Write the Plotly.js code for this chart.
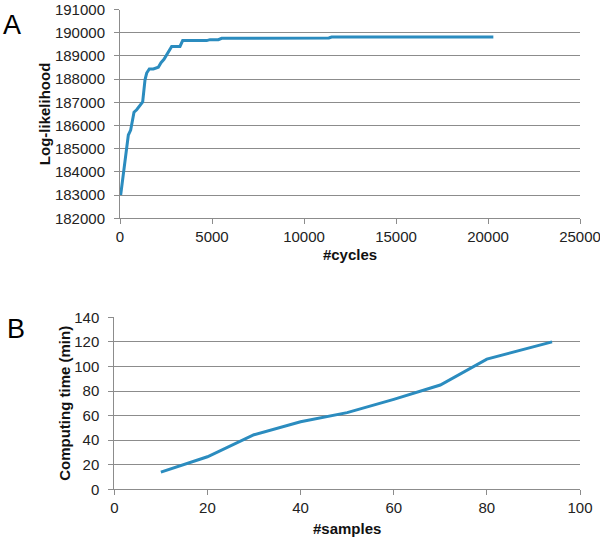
<!DOCTYPE html>
<html>
<head>
<meta charset="utf-8">
<script src="https://cdn.plot.ly/plotly-3.0.1.min.js"></script>
<style>html,body{margin:0;padding:0;background:#fff;}#chart{width:600px;height:537px;}</style>
</head>
<body>
<div id="chart"></div>
<script>
// Panel A: log-likelihood vs cycles
const cycles = [37, 181, 362, 453, 580, 761, 906, 1051, 1232, 1359, 1450, 1594, 1812, 2083, 2228, 2391, 2536, 2808, 3261, 3406, 4711, 4891, 5344, 5525, 11350, 11500, 20290];
const logLik = [183000, 183970, 185020, 185590, 185800, 186570, 186680, 186850, 187020, 187970, 188260, 188440, 188440, 188510, 188710, 188850, 189030, 189410, 189410, 189660, 189660, 189700, 189700, 189760, 189770, 189810, 189810];

// Panel B: computing time vs samples
const samples = [10, 20, 30, 40, 50, 60, 70, 80, 94];
const compTime = [14, 26.5, 44.4, 55, 62.4, 73.2, 84.9, 106, 120];

const lineColor = '#2b8cbf';
const gridColor = '#8c8c8c';
const tickFont = {family: 'Liberation Sans, Arial, sans-serif', size: 15, color: '#222'};
const titleFont = {family: 'Liberation Sans, Arial, sans-serif', size: 15, color: '#111', weight: 'bold'};

const commonX = {
  showgrid: false, zeroline: false, showline: true, linecolor: gridColor, linewidth: 1,
  ticks: 'outside', ticklen: 5, tickcolor: gridColor, tickfont: tickFont, ticklabelstandoff: 0,
  ticklabeloverflow: 'allow'
};
const commonY = {
  showgrid: true, gridcolor: gridColor, gridwidth: 1, zeroline: false, showline: true,
  linecolor: gridColor, linewidth: 1, ticks: 'outside', ticklen: 5, tickcolor: gridColor,
  tickfont: tickFont, ticklabelstandoff: 6, ticklabeloverflow: 'allow'
};

const data = [
  {x: cycles, y: logLik, type: 'scatter', mode: 'lines', xaxis: 'x', yaxis: 'y',
   line: {color: lineColor, width: 3}, hoverinfo: 'skip', cliponaxis: false},
  {x: samples, y: compTime, type: 'scatter', mode: 'lines', xaxis: 'x2', yaxis: 'y2',
   line: {color: lineColor, width: 3}, hoverinfo: 'skip'}
];

const layout = {
  width: 600, height: 537,
  margin: {l: 0, r: 0, t: 0, b: 0},
  paper_bgcolor: '#fff', plot_bgcolor: '#fff',
  showlegend: false,
  xaxis: Object.assign({}, commonX, {
    domain: [120/600, 580/600], anchor: 'y', range: [0, 25000], dtick: 5000,
    tickformat: 'd',
    title: {text: '#cycles', font: titleFont, standoff: 5}
  }),
  yaxis: Object.assign({}, commonY, {
    domain: [1 - 218.3/537, 1 - 9.5/537], anchor: 'x', range: [182000, 191000], dtick: 1000,
    tickformat: 'd',
    title: {text: 'Log-likelihood', font: titleFont, standoff: 0}
  }),
  xaxis2: Object.assign({}, commonX, {
    domain: [114.3/600, 580/600], anchor: 'y2', range: [0, 100], dtick: 20,
    title: {text: '#samples', font: titleFont, standoff: 8}
  }),
  yaxis2: Object.assign({}, commonY, {
    domain: [1 - 489.3/537, 1 - 317.3/537], anchor: 'x2', range: [0, 140], dtick: 20,
    title: {text: 'Computing time (min)', font: titleFont, standoff: 0}
  }),
  annotations: [
    {text: 'A', xref: 'paper', yref: 'paper', x: 1/600, y: 1 - 8/537, xanchor: 'left', yanchor: 'top',
     showarrow: false, font: {family: 'Liberation Sans, Arial, sans-serif', size: 27, color: '#000'}},
    {text: 'B', xref: 'paper', yref: 'paper', x: 5/600, y: 1 - 312/537, xanchor: 'left', yanchor: 'top',
     showarrow: false, font: {family: 'Liberation Sans, Arial, sans-serif', size: 27, color: '#000'}}
  ]
};

Plotly.newPlot('chart', data, layout, {staticPlot: true, displayModeBar: false});
</script>
</body>
</html>
